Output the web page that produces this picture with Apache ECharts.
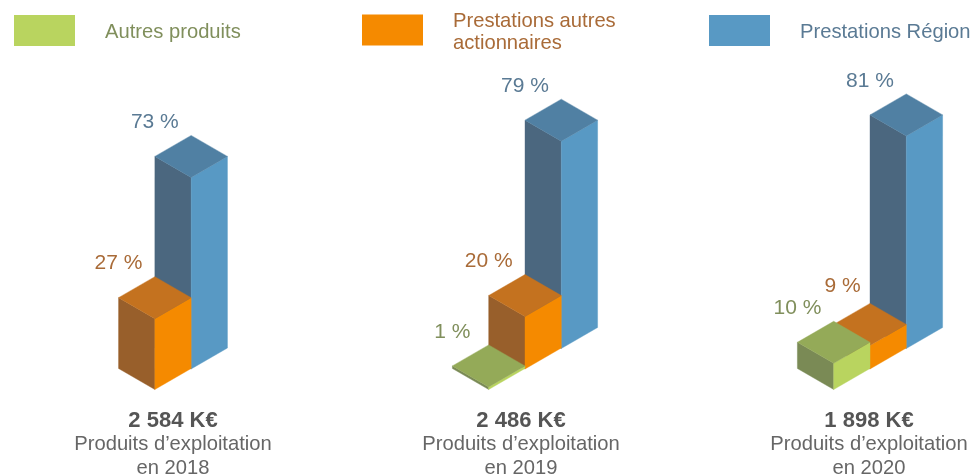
<!DOCTYPE html>
<html>
<head>
<meta charset="utf-8">
<title>Produits d'exploitation</title>
<style>
html, body { margin: 0; padding: 0; background: #fff; }
#chart { width: 972px; height: 475px; }
</style>
<script src="https://cdn.jsdelivr.net/npm/echarts@6/dist/echarts.min.js"></script>
</head>
<body>
<div id="chart"></div>
<script>
var years = ['2018', '2019', '2020'];
var totals = ['2 584 K€', '2 486 K€', '1 898 K€'];
var autresProduits = [null, 1, 10];
var autresActionnaires = [27, 20, 9];
var prestationsRegion = [73, 79, 81];

// du premier plan vers le fond
var stack = [autresProduits, autresActionnaires, prestationsRegion];

var HALF_W = 36.3, HALF_D = 21;
var STEP_Y = 20.5;
var yearShift = [0, 4, 1];

var colors = [
    { right: '#b9d45f', top: '#94aa58', left: '#7a8a55', text: '#808f5c' },
    { right: '#f58a00', top: '#c4721f', left: '#985f2b', text: '#a96b38' },
    { right: '#5899c4', top: '#5080a3', left: '#4b677f', text: '#5a7a94' }
];

var poly = function (points, fill) {
    return {
        type: 'polygon',
        shape: { points: points },
        style: { fill: fill, stroke: fill, lineWidth: 0.4 }
    };
};

var renderBar = function (level) {
    return function (params, api) {
        var i = api.value(0), v = api.value(1);
        var rank = 0, n = 0;
        stack.forEach(function (s, k) {
            if (s[i] != null) {
                if (k < level) rank++;
                n++;
            }
        });
        var base = api.coord([i, 0]);
        var h = api.size([0, v])[1];
        var c = colors[level];
        var x = base[0] + yearShift[i] + (rank - (n - 1) / 2) * HALF_W;
        var y = base[1] - rank * STEP_Y;
        var t = y - h;
        // la barre devant est plus haute : on decale le libelle
        var front = level > 0 ? stack[level - 1][i] : null;
        var crowded = front != null && front >= v;
        return {
            type: 'group',
            children: [
                poly([[x - HALF_W, y - HALF_D], [x, y], [x, t], [x - HALF_W, t - HALF_D]], c.left),
                poly([[x, y], [x + HALF_W, y - HALF_D], [x + HALF_W, t - HALF_D], [x, t]], c.right),
                poly([[x, t], [x + HALF_W, t - HALF_D], [x, t - 2 * HALF_D], [x - HALF_W, t - HALF_D]], c.top),
                {
                    type: 'text',
                    style: {
                        x: x - HALF_W + (crowded ? 9 : 0),
                        y: t - 2 * HALF_D - (crowded ? 17 : 13),
                        text: v + ' %',
                        fill: c.text,
                        font: '21px "Liberation Sans"',
                        align: 'center',
                        verticalAlign: 'middle'
                    }
                }
            ]
        };
    };
};

var toData = function (values) {
    var out = [];
    values.forEach(function (v, i) {
        if (v != null) out.push([i, v]);
    });
    return out;
};

var legendAt = function (name, left, top, lines, level) {
    return {
        left: left,
        top: top,
        orient: 'horizontal',
        padding: 0,
        itemWidth: 61,
        itemHeight: 31,
        selectedMode: false,
        data: [{ name: name, icon: 'rect' }],
        formatter: function () {
            return lines.map(function (l) { return '{t|' + l + '}'; }).join('\n');
        },
        textStyle: {
            padding: [0, 0, 0, 25],
            rich: {
                t: {
                    fontFamily: 'Liberation Sans',
                    fontSize: 20.2,
                    height: 18,
                    padding: [4, 0, 0, 0],
                    color: colors[level].text
                }
            }
        }
    };
};

var option = {
    animation: false,
    backgroundColor: '#fff',
    legend: [
        legendAt('Autres produits', 14, 15, ['Autres produits'], 0),
        legendAt('Prestations autres actionnaires', 362, 11, ['Prestations autres', 'actionnaires'], 1),
        legendAt('Prestations Région', 709, 15, ['Prestations Région'], 2)
    ],
    grid: { left: -1, width: 1044, top: 127, bottom: 85.5, outerBoundsMode: 'none' },
    xAxis: {
        type: 'category',
        data: years,
        axisLine: { show: false },
        axisTick: { show: false },
        axisLabel: {
            interval: 0,
            margin: 19,
            hideOverlap: false,
            formatter: function (value, idx) {
                return '{b|' + totals[idx] + '}\n{s|Produits d’exploitation}\n{s|en ' + value + '}';
            },
            rich: {
                b: { fontFamily: 'Liberation Sans', fontSize: 22, fontWeight: 'bold', color: '#555555', lineHeight: 24 },
                s: { fontFamily: 'Liberation Sans', fontSize: 20.2, color: '#666666', lineHeight: 24 }
            }
        }
    },
    yAxis: { type: 'value', min: 0, max: 100, show: false },
    series: [
        { name: 'Prestations Région', type: 'custom', renderItem: renderBar(2), itemStyle: { color: colors[2].right }, data: toData(prestationsRegion), z: 2 },
        { name: 'Prestations autres actionnaires', type: 'custom', renderItem: renderBar(1), itemStyle: { color: colors[1].right }, data: toData(autresActionnaires), z: 3 },
        { name: 'Autres produits', type: 'custom', renderItem: renderBar(0), itemStyle: { color: colors[0].right }, data: toData(autresProduits), z: 4 }
    ]
};

var myChart = echarts.init(document.getElementById('chart'));
myChart.setOption(option);
</script>
</body>
</html>
